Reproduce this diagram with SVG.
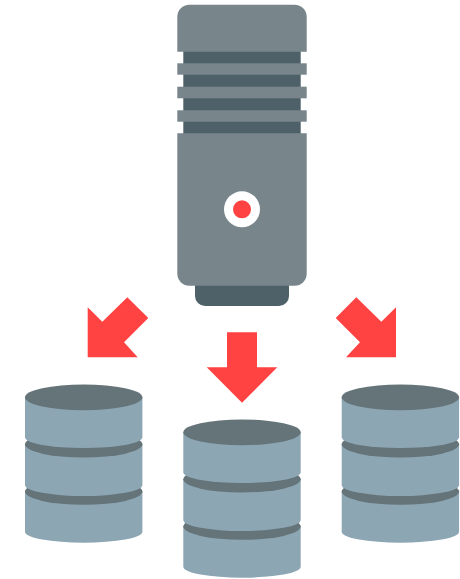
<svg xmlns="http://www.w3.org/2000/svg" xmlns:xlink="http://www.w3.org/1999/xlink" width="460" height="579" viewBox="0 0 460 579">
<style>
.body{fill:#78858b}
.dark{fill:#4e6068}
.red{fill:#ff4343}
.db{fill:#8da6b4}
.dbtop{fill:#647479}
</style>
<defs>
<g id="database">
<path class="db" d="M25 491V531.7A58.7 11 0 0 0 142.4 531.7V491Z"/>
<ellipse class="dbtop" cx="83.7" cy="491.5" rx="58.7" ry="13.3"/>
<path class="db" d="M25 444V485A58.7 11 0 0 0 142.4 485V444Z"/>
<ellipse class="dbtop" cx="83.7" cy="444.3" rx="58.7" ry="13.2"/>
<path class="db" d="M25 397.3V437.3A58.7 10.8 0 0 0 142.4 437.3V397.3Z"/>
<ellipse class="dbtop" cx="83.7" cy="397.3" rx="58.7" ry="12.9"/>
</g>
</defs>
<rect width="460" height="579" fill="#ffffff"/>
<g id="server">
<rect class="dark" x="195" y="270" width="94" height="36" rx="10"/>
<rect class="dark" x="183.3" y="48" width="117.4" height="90"/>
<path class="body" d="M177.3 51.7V16.7A12 12 0 0 1 189.3 4.7H294.7A12 12 0 0 1 306.7 16.7V51.7Z"/>
<rect class="body" x="177.3" y="63.3" width="129.4" height="11.4"/>
<rect class="body" x="177.3" y="86.7" width="129.4" height="11.6"/>
<rect class="body" x="177.3" y="110.3" width="129.4" height="11.4"/>
<path class="body" d="M177.3 133.3H306.7V273.7A12 12 0 0 1 294.7 285.7H189.3A12 12 0 0 1 177.3 273.7Z"/>
<circle cx="242" cy="209.3" r="18" fill="#ffffff"/>
<circle class="red" cx="242" cy="209.3" r="9"/>
</g>
<g id="connectors">
<polygon id="arrow-left" class="red" points="127.3,297.3 148.3,318 124,342.3 137.7,357.3 87.7,357.3 87.7,307.3 102.3,321.7"/>
<polygon id="arrow-middle" class="red" points="227,332.3 257,332.3 257,367.3 277.3,367.3 242,402.7 206.7,367.3 227,367.3"/>
<polygon id="arrow-right" class="red" points="356.3,297.3 335.7,318 360,342.3 346,357.3 396,357.3 396,307.3 381.3,321.7"/>
</g>
<g id="database-left"><use href="#database"/></g>
<g id="database-middle"><use href="#database" x="158.3" y="35"/></g>
<g id="database-right"><use href="#database" x="316.7"/></g>
</svg>
